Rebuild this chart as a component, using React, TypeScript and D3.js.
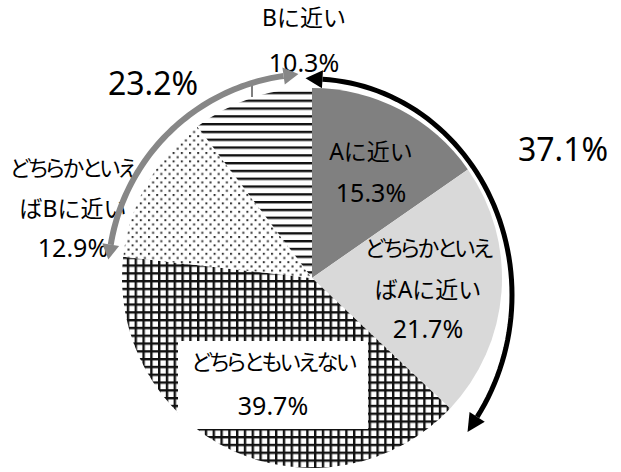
import React from "react";
import * as d3 from "d3";

// ---- data ----
const categories = ["Aに近い", "どちらかといえばAに近い", "どちらともいえない", "どちらかといえばBに近い", "Bに近い"];
const values = [15.3, 21.7, 39.7, 12.9, 10.3];
const labelLines = [["Aに近い"], ["どちらかといえ", "ばAに近い"], ["どちらともいえない"], ["どちらかといえ", "ばBに近い"], ["Bに近い"]];
const groupLabels = ["37.1%", "23.2%"]; // A side total, B side total

// ---- layout / style ----
const W = 621, H = 472;
const CX = 312, CY = 278, R = 190;
const fills = ["#808080", "#d9d9d9", "url(#pGrid)", "url(#pDots)", "url(#pLines)"];
const labelPos = [
  { x: 371, y: [160, 202] },
  { x: 428, y: [256, 298, 338] },
  { x: 273, y: [370, 415] },
  { x: 73, y: [176, 217, 257] },
  { x: 304, y: [26, 72] },
];
const FONT = "'Noto Sans', 'Noto Sans CJK JP', sans-serif";
const isKanaOnly = (s: string) => /^[\u3040-\u309f]+$/.test(s);

function arrowPath(pt: (t: number) => [number, number], t0: number, t1: number) {
  const ts = d3.range(0, 61).map((i) => t0 + ((t1 - t0) * i) / 60);
  return d3.line()(ts.map(pt)) as string;
}
function head(pt: (t: number) => [number, number], t: number, dirSign: number, len: number, wid: number) {
  const [x, y] = pt(t);
  const e = 0.001 * dirSign;
  const [x2, y2] = pt(t + e);
  let dx = x2 - x, dy = y2 - y;
  const n = Math.hypot(dx, dy);
  dx /= n; dy /= n;
  const tip = [x + dx * len, y + dy * len];
  const px = -dy, py = dx;
  const a = [x + px * wid / 2, y + py * wid / 2];
  const b = [x - px * wid / 2, y - py * wid / 2];
  return `M${tip[0]},${tip[1]}L${a[0]},${a[1]}L${b[0]},${b[1]}Z`;
}

export default function App() {
  const pie = d3.pie<number>().sort(null).value((d) => d)(values);
  const arc = d3.arc<d3.PieArcDatum<number>>().innerRadius(0).outerRadius(R);
  const rad = (deg: number) => (deg * Math.PI) / 180;

  // black arrow (A side) – slightly elliptical arc
  const blackPt = (t: number): [number, number] => [CX + 200 * Math.sin(t), CY + 17 - 216 * Math.cos(t)];
  const aEnd = (values[0] + values[1]) / d3.sum(values) * 360; // ~133°
  const bT0 = rad(3), bT1 = rad(aEnd - 9);
  // gray arrow (B side) – circular arc
  const grayPt = (t: number): [number, number] => [CX + 204 * Math.sin(t), CY - 204 * Math.cos(t)];
  const bStart = 360 - (values[3] + values[4]) / d3.sum(values) * 360; // ~276°
  const gT0 = rad(bStart + 3), gT1 = rad(352);

  return (
    <svg width={W} height={H} style={{ position: "fixed", left: 0, top: 0, background: "#fff" }}>
      <defs>
        <pattern id="pLines" patternUnits="userSpaceOnUse" width={8} height={7.8} y={1}>
          <rect width={8} height={7.8} fill="#fff" />
          <rect y={0} width={8} height={2.4} fill="#111" />
        </pattern>
        <pattern id="pGrid" patternUnits="userSpaceOnUse" width={7.8} height={7.8} x={2} y={2}>
          <rect width={7.8} height={7.8} fill="#fff" />
          <rect width={7.8} height={2.4} fill="#111" />
          <rect width={2.4} height={7.8} fill="#111" />
        </pattern>
        <pattern id="pDots" patternUnits="userSpaceOnUse" width={8.2} height={8.4}>
          <rect width={8.2} height={8.4} fill="#fff" />
          <rect x={0} y={0} width={2} height={2} fill="#333" />
          <rect x={4.1} y={4.2} width={2} height={2} fill="#333" />
        </pattern>
      </defs>
      <g transform={`translate(${CX},${CY})`}>
        {pie.map((p, i) => (
          <path key={categories[i]} d={arc(p) as string} fill={fills[i]} />
        ))}
      </g>
      {/* leader line for B */}
      <path d="M252,86V97" stroke="#000" strokeWidth={1} fill="none" />

      {/* white box behind neutral label */}
      <rect x={178} y={341} width={190} height={88} fill="#fff" />

      {/* slice labels */}
      {labelLines.map((lines, i) => {
        const all = [...lines, `${values[i].toFixed(1)}%`];
        return all.map((s, j) => {
          const isPct = j === all.length - 1;
          const kana = isKanaOnly(s);
          return (
            <text key={`${i}-${j}`} x={labelPos[i].x} y={labelPos[i].y[j]} textAnchor="middle"
              fontFamily={FONT} fontSize={isPct ? 25 : kana ? 22 : 23} fill="#000"
              letterSpacing={kana ? -2 : 0}
              style={kana ? { fontFeatureSettings: '"palt" 1' } : undefined}>
              {s}
            </text>
          );
        });
      })}

      {/* arrows */}
      <path d={arrowPath(blackPt, bT0, bT1)} stroke="#000" strokeWidth={5} fill="none" />
      <path d={head(blackPt, bT0, -1, 17, 18)} fill="#000" />
      <path d={head(blackPt, bT1, 1, 18, 18)} fill="#000" />
      <path d={arrowPath(grayPt, gT0, gT1)} stroke="#878787" strokeWidth={6} fill="none" />
      <path d={head(grayPt, gT0, -1, 15, 17)} fill="#878787" />
      <path d={head(grayPt, gT1, 1, 15, 17)} fill="#878787" />

      <text x={563} y={161} textAnchor="middle" fontFamily={FONT} fontSize={32}>{groupLabels[0]}</text>
      <text x={153} y={95} textAnchor="middle" fontFamily={FONT} fontSize={32}>{groupLabels[1]}</text>
    </svg>
  );
}
